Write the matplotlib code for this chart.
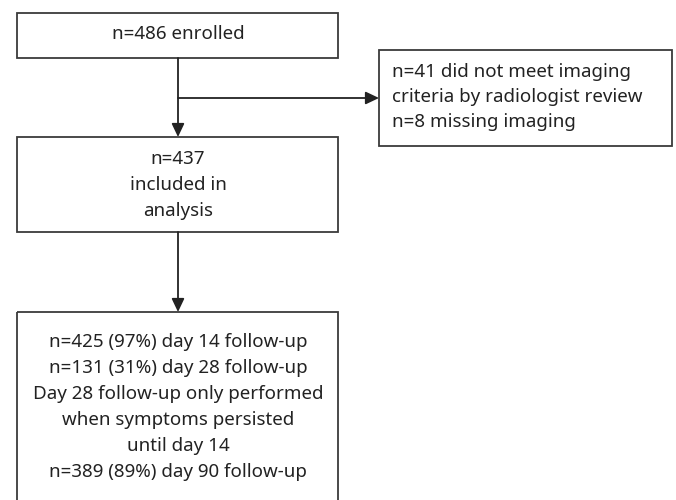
import matplotlib
matplotlib.use("Agg")
import matplotlib.pyplot as plt
from matplotlib.patches import Rectangle

plt.rcParams['font.family'] = ['Noto Sans', 'DejaVu Sans']

enrolled_text = ["n=486 enrolled"]
excluded_text = ["n=41 did not meet imaging", "criteria by radiologist review", "n=8 missing imaging"]
included_text = ["n=437", "included in", "analysis"]
followup_text = ["n=425 (97%) day 14 follow-up", "n=131 (31%) day 28 follow-up",
                 "Day 28 follow-up only performed", "when symptoms persisted",
                 "until day 14", "n=389 (89%) day 90 follow-up"]

W, H = 676, 500
fig = plt.figure(figsize=(W/100, H/100), dpi=100)
ax = fig.add_axes([0, 0, 1, 1])
ax.set_xlim(0, W)
ax.set_ylim(H, 0)
ax.axis('off')

ec = '#3a3a3a'
tc = '#222222'
fs = 13.5
lw = 1.3

def box(x0, y0, x1, y1):
    ax.add_patch(Rectangle((x0, y0), x1 - x0, y1 - y0, fill=False, ec=ec, lw=lw))

def lines(texts, x, y0, dy, ha='center'):
    for i, t in enumerate(texts):
        ax.text(x, y0 + i*dy, t, ha=ha, va='center', fontsize=fs, color=tc)

def arrow(x0, y0, x1, y1):
    ax.annotate('', xy=(x1, y1), xytext=(x0, y0),
                arrowprops=dict(arrowstyle='-|>,head_length=0.8,head_width=0.38',
                                color='#222222', lw=lw, shrinkA=0, shrinkB=0))

# boxes
box(17, 13, 338, 58)
box(379, 50, 672, 146)
box(17, 137, 338, 232)
box(17, 312, 338, 510)

lines(enrolled_text, 178, 34, 26)
lines(excluded_text, 392, 72, 25, ha='left')
lines(included_text, 178, 159, 26)
lines(followup_text, 178, 342, 26)

# connectors
arrow(178, 58, 178, 137)
arrow(178, 98, 379, 98)
arrow(178, 232, 178, 312)

fig.savefig('out.png', dpi=100)
